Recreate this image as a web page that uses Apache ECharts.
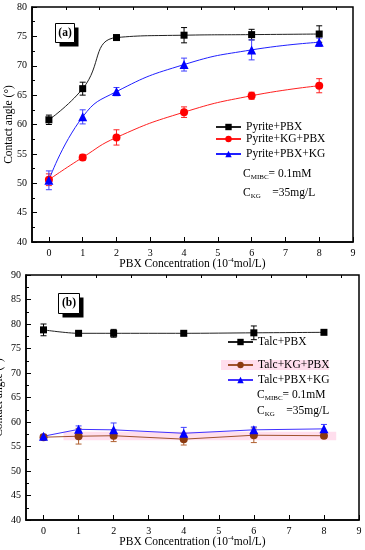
<!DOCTYPE html>
<html><head><meta charset="utf-8">
<script src="https://cdn.jsdelivr.net/npm/echarts@6/dist/echarts.min.js"></script>
<style>html,body{margin:0;padding:0;background:#fff}#c{width:365px;height:550px}</style>
</head><body><div id="c"></div>
<script>
var xs = [0, 1, 2, 4, 6, 8];
// Panel (a)
var pyPBX = [60.8, 66.1, 74.8, 75.2, 75.3, 75.4];
var pyPBXErr = [0.8, 1.1, 0.4, 1.3, 0.9, 1.4];
var pyKGPBX = [50.6, 54.4, 57.8, 62.1, 64.9, 66.6];
var pyKGPBXErr = [1.0, 0.5, 1.3, 0.9, 0.6, 1.2];
var pyPBXKG = [50.5, 61.3, 65.6, 70.2, 72.7, 74.0];
var pyPBXKGErr = [1.6, 1.2, 0.7, 1.1, 1.7, 0.7];
// Panel (b)
var tcPBX = [78.8, 78.1, 78.1, 78.1, 78.2, 78.3];
var tcPBXErr = [1.2, 0.3, 0.8, 0.3, 1.4, 0.3];
var tcKGPBX = [56.9, 57.1, 57.2, 56.5, 57.3, 57.2];
var tcKGPBXErr = [0.5, 1.6, 1.2, 1.2, 1.5, 0.5];
var tcPBXKG = [57.1, 58.5, 58.4, 57.7, 58.4, 58.6];
var tcPBXKGErr = [0.4, 0.7, 1.4, 1.2, 0.6, 0.9];
var xMajor = [0, 1, 2, 3, 4, 5, 6, 7, 8, 9];
var xMinor = [-0.5, 0.5, 1.5, 2.5, 3.5, 4.5, 5.5, 6.5, 7.5, 8.5];

var FONT = 'Liberation Serif';
function pts(v){ return xs.map(function(x,i){return [x, v[i]];}); }
function errPts(v,e){ return xs.map(function(x,i){return [x, v[i], e[i]];}); }

function errSeries(idx, v, e, color){
  return {
    type:'custom', xAxisIndex: idx*2, yAxisIndex: idx, z: 3, silent:true,
    data: errPts(v,e),
    renderItem: function(params, api){
      var x = api.value(0), y = api.value(1), er = api.value(2);
      var lo = api.coord([x, y-er]), hi = api.coord([x, y+er]);
      var w = 3;
      var st = {stroke: color, lineWidth: 1};
      return {type:'group', children:[
        {type:'line', shape:{x1:lo[0],y1:lo[1],x2:hi[0],y2:hi[1]}, style:st},
        {type:'line', shape:{x1:lo[0]-w,y1:lo[1],x2:lo[0]+w,y2:lo[1]}, style:st},
        {type:'line', shape:{x1:hi[0]-w,y1:hi[1],x2:hi[0]+w,y2:hi[1]}, style:st}
      ]};
    }
  };
}
function lineSeries(idx, name, v, color, lineColor, symbol, size, smooth){
  return {
    type:'line', name:name, xAxisIndex: idx*2, yAxisIndex: idx, z: 4,
    data: pts(v), smooth: smooth, symbol: symbol, symbolSize: size,
    itemStyle:{color: color}, lineStyle:{color: lineColor, width: 1},
    emphasis:{disabled:true}
  };
}
function xAxes(grid){
  return [
    {type:'value', gridIndex:grid, min:-0.5, max:9,
     axisLine:{show:true, onZero:false, lineStyle:{color:'#000', width:1.5}},
     axisTick:{show:true, inside:true, length:5, customValues:xMajor, lineStyle:{color:'#000'}},
     axisLabel:{show:true, customValues:xMajor, color:'#000', fontFamily:FONT, fontSize:10, margin:6},
     splitLine:{show:false},
     name:'PBX Concentration (10{sup|-4}mol/L)', nameLocation:'middle', nameGap:15, nameMoveOverlap:false,
     nameTextStyle:{color:'#000', fontFamily:FONT, fontSize:11.5,
       rich:{sup:{fontFamily:FONT, fontSize:7, verticalAlign:'top', padding:[0,0,6,0], color:'#000'}}}
    },
    {type:'value', gridIndex:grid, min:-0.5, max:9,
     axisLine:{show:false},
     axisTick:{show:true, inside:true, length:3, customValues:xMinor, lineStyle:{color:'#000'}},
     axisLabel:{show:false}, splitLine:{show:false}}
  ];
}
function yAxis(grid, max, gap){
  return {type:'value', gridIndex:grid, min:40, max:max, interval:5,
    axisLine:{show:true, onZero:false, lineStyle:{color:'#000', width:1.5}},
    axisTick:{show:true, inside:true, length:5, lineStyle:{color:'#000'}},
    minorTick:{show:true, splitNumber:2, length:3, lineStyle:{color:'#000'}},
    axisLabel:{color:'#000', fontFamily:FONT, fontSize:10, margin:5},
    splitLine:{show:false},
    name:'Contact angle (°)', nameLocation:'middle', nameGap:gap, nameMoveOverlap:false,
    nameTextStyle:{color:'#000', fontFamily:FONT, fontSize:11.5}
  };
}
function leg(name, left, top){
  return {data:[name], left:left, top:top, orient:'vertical', itemWidth:25, itemHeight:8,
    padding:0, selectedMode:false,
    textStyle:{color:'#000', fontFamily:FONT, fontSize:11.5}};
}
function box(label, x, y, w, h){
  return {type:'group', left:x, top:y, children:[
    {type:'rect', shape:{x:4, y:4, width:w, height:h}, style:{fill:'#000'}},
    {type:'rect', shape:{x:0, y:0, width:w, height:h}, style:{fill:'#fff', stroke:'#000', lineWidth:1}},
    {type:'text', x:w/2, y:h/2, style:{text:label, fill:'#000', font:'bold 11.5px "Liberation Serif"', align:'center', verticalAlign:'middle'}}
  ]};
}
function note(x, y, t){
  return {type:'text', left:x, top:y, style:{text:t, fill:'#000', fontFamily:FONT, fontSize:11.5,
    rich:{s:{fontFamily:FONT, fontSize:7, verticalAlign:'bottom', padding:[6,0,0,0], fill:'#000'}}}};
}

var chart = echarts.init(document.getElementById('c'), null, {renderer:'canvas'});
chart.setOption({
  backgroundColor:'#fff',
  animation:false,
  grid:[
    {left:32, top:7, width:321, height:235, show:true, borderColor:'#000', borderWidth:1.5, backgroundColor:'transparent', outerBoundsMode:'none'},
    {left:26, top:275, width:333, height:245, show:true, borderColor:'#000', borderWidth:1.5, backgroundColor:'transparent', outerBoundsMode:'none'}
  ],
  xAxis: xAxes(0).concat(xAxes(1)),
  yAxis: [yAxis(0, 80, 17), yAxis(1, 90, 21)],
  legend:[
    leg('Pyrite+PBX', 215, 121),
    leg('Pyrite+KG+PBX', 215, 133),
    leg('Pyrite+PBX+KG', 215, 148),
    leg('Talc+PBX', 227, 336),
    leg('Talc+KG+PBX', 227, 359),
    leg('Talc+PBX+KG', 227, 374)
  ],
  graphic:[
    box('(a)', 55, 23, 19, 19),
    box('(b)', 58, 293, 21, 20),
    {type:'rect', left:221, top:360, z:-1, shape:{width:108, height:10}, style:{fill:'rgba(255,200,225,0.6)'}},
    note(243, 168, 'C{s|MIBC}= 0.1mM'),
    note(243, 187, 'C{s|KG}    =35mg/L'),
    note(257, 389, 'C{s|MIBC}= 0.1mM'),
    note(257, 405, 'C{s|KG}    =35mg/L')
  ],
  series:[
    lineSeries(0, 'Pyrite+PBX', pyPBX, '#000', '#222', 'rect', 7, 0.5),
    lineSeries(0, 'Pyrite+KG+PBX', pyKGPBX, '#ff0000', '#ff2020', 'circle', 8, 0.5),
    lineSeries(0, 'Pyrite+PBX+KG', pyPBXKG, '#0000ff', '#2020ff', 'triangle', 9, 0.5),
    errSeries(0, pyPBX, pyPBXErr, '#000'),
    errSeries(0, pyKGPBX, pyKGPBXErr, '#ff2020'),
    errSeries(0, pyPBXKG, pyPBXKGErr, '#4040ff'),
    lineSeries(1, 'Talc+PBX', tcPBX, '#000', '#222', 'rect', 7, 0.3),
    (function(){
      var s = lineSeries(1, 'Talc+KG+PBX', tcKGPBX, '#8b3a10', '#a0522d', 'circle', 8, false);
      s.markArea = {silent:true, itemStyle:{color:'rgba(255,200,225,0.6)'},
        data:[[{xAxis:0.57, yAxis:56.3}, {xAxis:8.35, yAxis:58.0}]]};
      return s;
    })(),
    lineSeries(1, 'Talc+PBX+KG', tcPBXKG, '#0000ff', '#4030ff', 'triangle', 9, false),
    errSeries(1, tcPBX, tcPBXErr, '#000'),
    errSeries(1, tcKGPBX, tcKGPBXErr, '#b06030'),
    errSeries(1, tcPBXKG, tcPBXKGErr, '#4040ff')
  ]
});
</script></body></html>
